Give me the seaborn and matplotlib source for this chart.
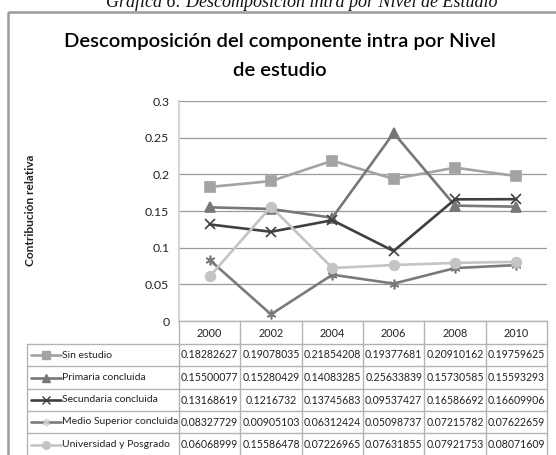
import numpy as np
import pandas as pd
import matplotlib
matplotlib.use("Agg")
import matplotlib.pyplot as plt
import matplotlib.patches as patches
import seaborn as sns

# Data
years = [2000, 2002, 2004, 2006, 2008, 2010]
series_names = ["Sin estudio", "Primaria concluida", "Secundaria concluida",
                "Medio Superior concluida", "Universidad y Posgrado"]
sin_estudio = [0.18282627, 0.19078035, 0.21854208, 0.19377681, 0.20910162, 0.19759625]
primaria = [0.15500077, 0.15280429, 0.14083285, 0.25633839, 0.15730585, 0.15593293]
secundaria = [0.13168619, 0.1216732, 0.13745683, 0.09537427, 0.16586692, 0.16609906]
medio_superior = [0.08327729, 0.00905103, 0.06312424, 0.05098737, 0.07215782, 0.07622659]
universidad = [0.06068999, 0.15586478, 0.07226965, 0.07631855, 0.07921753, 0.08071609]
y_ticks = [0, 0.05, 0.1, 0.15, 0.2, 0.25, 0.3]
y_tick_labels = ["0", "0.05", "0.1", "0.15", "0.2", "0.25", "0.3"]

all_values = [sin_estudio, primaria, secundaria, medio_superior, universidad]
df = pd.DataFrame({
    "year": years * len(series_names),
    "serie": [n for n in series_names for _ in years],
    "valor": [v for vals in all_values for v in vals],
})

# styles
colors = {
    "Sin estudio": "#a3a3a3",
    "Primaria concluida": "#777777",
    "Secundaria concluida": "#404040",
    "Medio Superior concluida": "#7a7a7a",
    "Universidad y Posgrado": "#c4c4c4",
}
markers = {
    "Sin estudio": "s",
    "Primaria concluida": "^",
    "Secundaria concluida": "x",
    "Medio Superior concluida": (6, 2, 0),
    "Universidad y Posgrado": "o",
}

sns.set_style("white")
plt.rcParams["font.family"] = ["Lato", "DejaVu Sans"]

W, H = 556, 455
fig = plt.figure(figsize=(W / 100, H / 100), dpi=100)

# pixel helpers
def fx(px):
    return px / W

left, right, top, bottom = 179, 547, 101, 321
ax = fig.add_axes([fx(left), 1 - bottom / H, fx(right - left), (bottom - top) / H])

for name in series_names:
    sub = df[df["serie"] == name]
    sns.lineplot(data=sub, x="year", y="valor", color=colors[name], marker=markers[name],
                 linewidth=1.9, markersize=7, markeredgewidth=1.2,
                 markeredgecolor=colors[name], ax=ax, clip_on=False)

ax.set_xlim(years[0] - 1, years[-1] + 1)
ax.set_ylim(0, 0.3)
ax.set_yticks(y_ticks)
ax.set_yticklabels(y_tick_labels, fontsize=8.8, color="#222222")
ax.set_xticks([])
ax.set_xlabel("")
ax.set_ylabel("")
ax.tick_params(axis="y", length=0, pad=7)
ax.grid(axis="y", color="#9a9a9a", linewidth=0.9)
ax.grid(axis="x", visible=False)
for s in ["top", "right", "bottom"]:
    ax.spines[s].set_visible(False)
ax.spines["left"].set_color("#d4d4d4")
ax.spines["left"].set_linewidth(1.5)
ax.set_axisbelow(True)

# overlay axes in pixel coords for frame, titles and table
ov = fig.add_axes([0, 0, 1, 1], facecolor="none")
ov.set_xlim(0, W)
ov.set_ylim(H, 0)
ov.axis("off")

ov.add_patch(patches.Rectangle((8, 12), 560, 460, fill=False, edgecolor="#9c9c9c",
                               linewidth=1.8))

ov.text(302, 7, "Gráfica 6: Descomposición intra por Nivel de Estudio",
        family="Liberation Serif", style="italic", fontsize=13, ha="center",
        va="baseline", color="#111111")
ov.text(280, 42, "Descomposición del componente intra por Nivel",
        fontsize=14.6, fontweight="semibold", ha="center", va="center", color="#000000")
ov.text(280, 71, "de estudio", fontsize=14.6, fontweight="semibold", ha="center",
        va="center", color="#000000")
ov.text(31, 210, "Contribución relativa", fontsize=8.6, fontweight="bold",
        rotation=90, ha="center", va="center", color="#222222")

# table
grid_c = "#b3b3b3"
col_w = (right - left) / len(years)
row_edges = [321, 344, 366, 389, 411, 433, 456]
tab_left = 27

# header row
for i in range(len(years) + 1):
    x = left + i * col_w
    ov.plot([x, x], [row_edges[0], row_edges[-1]], color=grid_c, linewidth=1)
for i, yr in enumerate(years):
    ov.text(left + (i + 0.5) * col_w, (row_edges[0] + row_edges[1]) / 2 + 1, str(yr),
            fontsize=7.8, ha="center", va="center", color="#222222")
ov.plot([tab_left, tab_left], [row_edges[1], row_edges[-1]], color=grid_c, linewidth=1)
for yb in row_edges[1:]:
    ov.plot([tab_left, right], [yb, yb], color=grid_c, linewidth=1)
ov.plot([left, right], [row_edges[0], row_edges[0]], color=grid_c, linewidth=1)

def fmt(v):
    s = f"{v:.8f}".rstrip("0")
    return s

for r, (name, vals) in enumerate(zip(series_names, all_values)):
    yc = (row_edges[r + 1] + row_edges[r + 2]) / 2
    ov.plot([31, 61], [yc, yc], color=colors[name], linewidth=1.9)
    ov.plot([46], [yc], marker=markers[name], color=colors[name],
            markersize=5.5, markeredgewidth=1, markeredgecolor=colors[name] if r != 3 else "#c8c8c8")
    ov.text(62.5, yc, name, fontsize=7.5, ha="left", va="center", color="#222222")
    for i, v in enumerate(vals):
        ov.text(left + (i + 0.5) * col_w, yc, fmt(v), fontsize=7.6, ha="center",
                va="center", color="#222222")

fig.savefig("out.png", dpi=100)
